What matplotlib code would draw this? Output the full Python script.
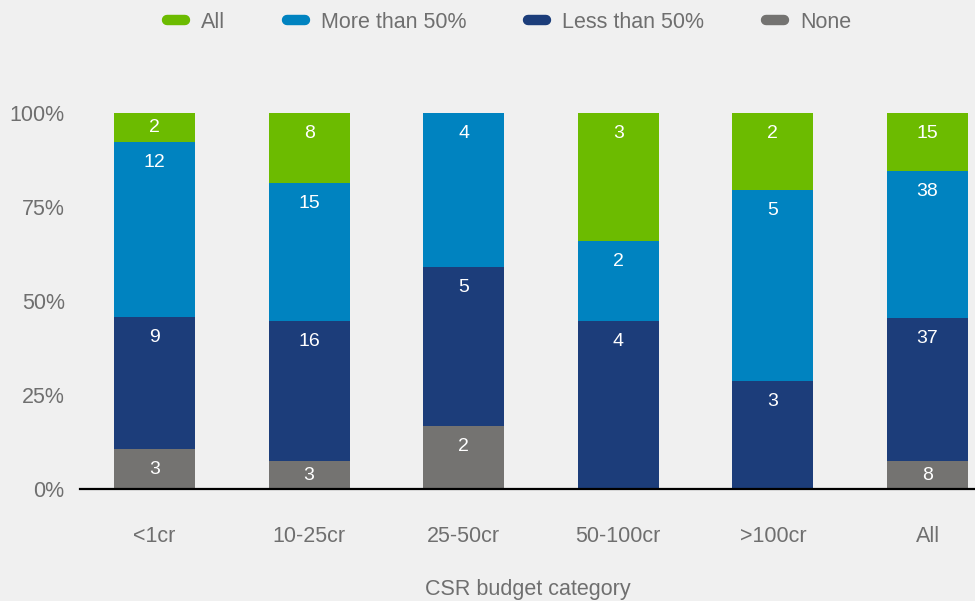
import numpy as np
import matplotlib
matplotlib.use("Agg")
import matplotlib.pyplot as plt
from matplotlib.lines import Line2D

plt.rcParams['font.family'] = ['Liberation Sans', 'DejaVu Sans']

categories = ["<1cr", "10-25cr", "25-50cr", "50-100cr", ">100cr", "All"]
series = ["None", "Less than 50%", "More than 50%", "All"]

# segment shares in percent, bottom to top
pct_none = [10.6, 7.4, 16.8, 0.0, 0.0, 7.4]
pct_less = [35.1, 37.3, 42.2, 44.7, 28.7, 38.1]
pct_more = [46.6, 36.7, 41.0, 21.3, 50.8, 39.1]
pct_all = [7.7, 18.6, 0.0, 34.0, 20.5, 15.4]

# counts printed on the segments
n_none = [3, 3, 2, None, None, 8]
n_less = [9, 16, 5, 4, 3, 37]
n_more = [12, 15, 4, 2, 5, 38]
n_all = [2, 8, None, 3, 2, 15]

colors = {"None": "#747371", "Less than 50%": "#1c3d7a",
          "More than 50%": "#0083c0", "All": "#6cbb00"}
bg = "#f0f0f0"
txt = "#6f6f6f"

fig = plt.figure(figsize=(9.75, 6.01), dpi=100, facecolor=bg)
ax = fig.add_axes([80 / 975, 112 / 601, 895 / 975, 376 / 601])
ax.set_facecolor(bg)

x = np.arange(len(categories))
width = 0.524
bottom = np.zeros(len(categories))
for name, pct, counts in [("None", pct_none, n_none),
                          ("Less than 50%", pct_less, n_less),
                          ("More than 50%", pct_more, n_more),
                          ("All", pct_all, n_all)]:
    pct = np.array(pct)
    ax.bar(x, pct, width, bottom=bottom, color=colors[name], label=name)
    for i in range(len(categories)):
        if counts[i] is None:
            continue
        top = bottom[i] + pct[i]
        off = min(pct[i] / 2, 5.5)
        ax.text(x[i], top - off, str(counts[i]), ha="center", va="center",
                color="white", fontsize=14)
    bottom += pct

ax.set_xlim(-0.482, 5.307)
ax.set_ylim(0, 100)
ax.set_yticks([0, 25, 50, 75, 100])
ax.set_yticklabels(["0%", "25%", "50%", "75%", "100%"])
ax.set_xticks(x)
ax.set_xticklabels(categories)
ax.tick_params(axis="y", length=0, pad=11, labelsize=15.5, labelcolor=txt)
ax.tick_params(axis="x", length=0, pad=27, labelsize=15.5, labelcolor=txt)
for s in ["top", "right", "left"]:
    ax.spines[s].set_visible(False)
ax.spines["bottom"].set_linewidth(1.6)
ax.spines["bottom"].set_color("black")
ax.set_xlabel("CSR budget category", fontsize=15.5, color=txt, labelpad=23)

handles = [Line2D([0], [0], color=colors[n], lw=7.5, solid_capstyle="round")
           for n in ["All", "More than 50%", "Less than 50%", "None"]]
fig.legend(handles, ["All", "More than 50%", "Less than 50%", "None"],
           loc="center", bbox_to_anchor=(0.522, 0.963), ncol=4, frameon=False,
           fontsize=15.5, labelcolor=txt, handlelength=0.85, handletextpad=0.75,
           columnspacing=2.85)

fig.savefig("out.png", dpi=100, facecolor=bg)
